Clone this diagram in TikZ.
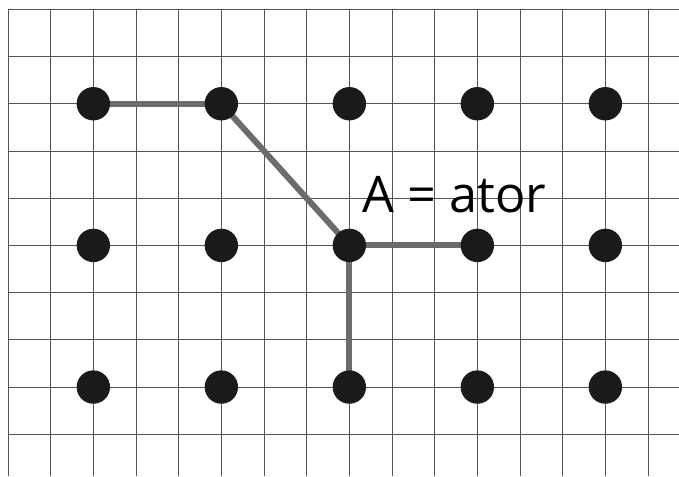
\documentclass[tikz,border=0pt]{standalone}
\usepackage{fontspec}
\setmainfont{Open Sans}
\pgfdeclarelayer{background}
\pgfdeclarelayer{edges}
\pgfsetlayers{background,edges,main}
\definecolor{gridc}{HTML}{555555}
\definecolor{dotc}{HTML}{1A1A1A}
\definecolor{edgec}{HTML}{6C6C6C}
\tikzset{
  gridline/.style={draw=gridc, line width=0.9pt},
  dot/.style={circle, fill=dotc, draw=none, minimum size=33.4pt, inner sep=0pt},
  link/.style={draw=edgec, line width=6pt},
  lbl/.style={font=\fontsize{50.4}{60}\selectfont, inner sep=0pt, anchor=base west}
}
\begin{document}
\begin{tikzpicture}[x=1pt,y=-1pt]
\useasboundingbox (0,0) rectangle (679,476);
\begin{pgfonlayer}{background}
\fill[white] (0,0) rectangle (679,476);
\foreach \k in {0,...,15} {
  \draw[gridline] (8+42.667*\k,9.3) -- (8+42.667*\k,476);
}
\foreach \k in {0,...,9} {
  \draw[gridline] (8,9.3+47.22*\k) -- (679,9.3+47.22*\k);
}
\end{pgfonlayer}
\foreach \c [count=\i] in {2,5,8,11,14} {
  \foreach \r [count=\j] in {2,5,8} {
    \node[dot] (d\i\j) at (8+42.667*\c,9.3+47.22*\r) {};
  }
}
\begin{pgfonlayer}{edges}
\draw[link] (d11.center) -- (d21.center);
\draw[link] (d21.center) -- (d32.center);
\draw[link] (d32.center) -- (d42.center);
\draw[link] (d32.center) -- (d33.center);
\end{pgfonlayer}
\node[lbl] (label) at (362.5,212.7) {A = ator};
\end{tikzpicture}
\end{document}
